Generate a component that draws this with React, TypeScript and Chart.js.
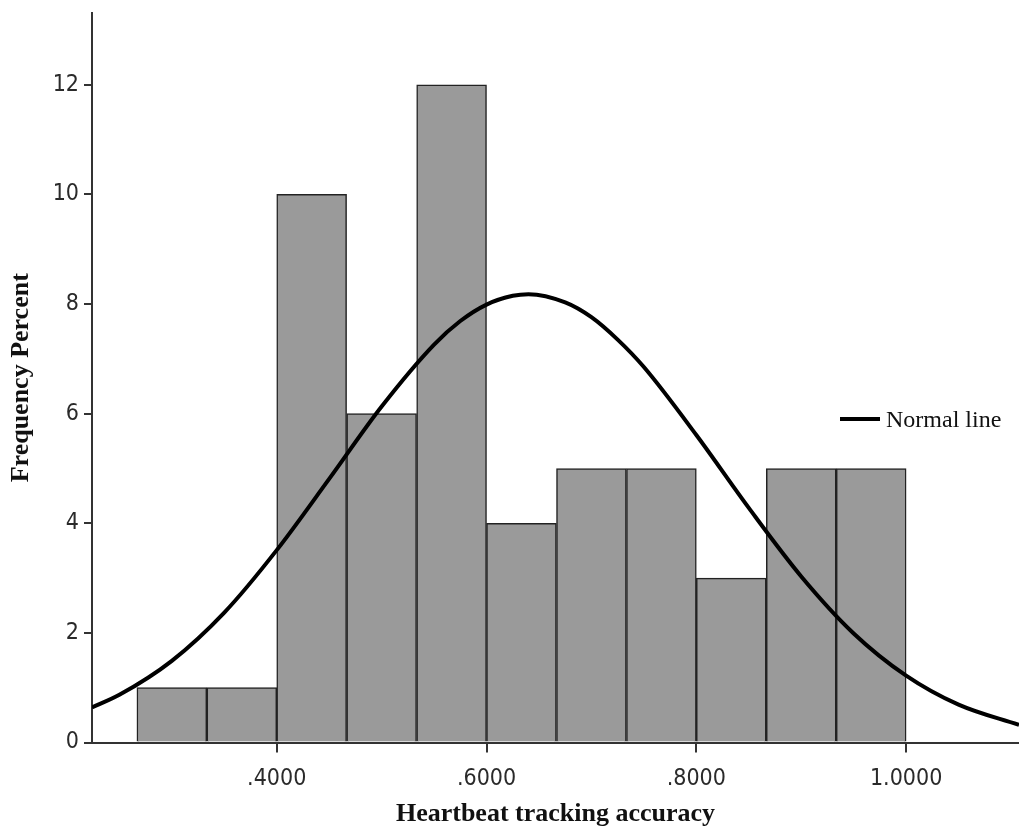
import React, { useEffect, useRef } from "react";
import { Chart, registerables } from "chart.js";

Chart.register(...registerables);

// Histogram bins (centre of each bin) and heights (Frequency Percent)
const binCenters = [0.3, 0.3667, 0.4333, 0.5, 0.5667, 0.6333, 0.7, 0.7667, 0.8333, 0.9, 0.9667];
const binPercents = [1, 1, 10, 6, 12, 4, 5, 5, 3, 5, 5];

// Normal line, points
const normalX = [0.2239, 0.25, 0.3, 0.35, 0.4, 0.45, 0.5, 0.55, 0.575, 0.6, 0.625, 0.64, 0.675, 0.7, 0.725, 0.75, 0.8, 0.85, 0.9, 0.95, 1.0, 1.05, 1.1076];
const normalY = [0.64, 0.87, 1.49, 2.37, 3.51, 4.81, 6.13, 7.26, 7.69, 7.99, 8.15, 8.18, 8.03, 7.76, 7.35, 6.85, 5.61, 4.28, 3.03, 1.99, 1.22, 0.69, 0.32];

// Axis ticks
const xTicks = [0.4, 0.6, 0.8, 1.0];
const xTickLabels = [".4000", ".6000", ".8000", "1.0000"];
const yTicks = [0, 2, 4, 6, 8, 10, 12];

const xMin = 0.2239;
const xMax = 1.1076;
const yMax = 13.31;

const tickFont = { family: "'DejaVu Sans Condensed', 'DejaVu Sans', sans-serif", size: 23 };
const titleFont = { family: "'Liberation Serif', 'Times New Roman', serif", size: 26, weight: "bold" as const };

export default function App() {
  const canvasRef = useRef<HTMLCanvasElement | null>(null);

  useEffect(() => {
    const canvas = canvasRef.current;
    if (!canvas) return;
    const chart = new Chart(canvas, {
      type: "bar",
      data: {
        datasets: [
          {
            type: "line",
            label: "Normal line",
            data: normalX.map((x, i) => ({ x, y: normalY[i] })),
            borderColor: "#000000",
            borderWidth: 4,
            pointRadius: 0,
            cubicInterpolationMode: "monotone",
            fill: false,
            order: 0,
          } as any,
          {
            type: "bar",
            label: "Frequency",
            data: binCenters.map((x, i) => ({ x, y: binPercents[i] })),
            backgroundColor: "#9a9a9a",
            borderColor: "#222222",
            borderWidth: 1.5,
            barPercentage: 1,
            categoryPercentage: 1,
            grouped: false,
            order: 1,
          } as any,
        ],
      },
      options: {
        animation: false,
        responsive: false,
        maintainAspectRatio: false,
        layout: { padding: { top: 13, left: 0, right: 0, bottom: 0 } },
        plugins: {
          legend: { display: false },
          tooltip: { enabled: false },
        },
        scales: {
          x: {
            type: "linear",
            offset: false,
            min: xMin,
            max: xMax,
            afterBuildTicks: (scale: any) => {
              scale.ticks = xTicks.map((v) => ({ value: v }));
            },
            afterFit: (scale: any) => {
              scale.height = 87.5;
              scale.paddingLeft = 0;
              scale.paddingRight = 0;
            },
            ticks: {
              font: tickFont,
              color: "#2a2a2a",
              padding: 13,
              maxRotation: 0,
              autoSkip: false,
              callback: (v: any) => {
                const i = xTicks.findIndex((t) => Math.abs(t - Number(v)) < 1e-6);
                return i >= 0 ? xTickLabels[i] : "";
              },
            },
            grid: {
              display: true,
              drawOnChartArea: false,
              drawTicks: true,
              tickLength: 10,
              color: "#333333",
              lineWidth: 2,
              offset: false,
            },
            border: { display: true, color: "#333333", width: 2 },
            title: {
              display: true,
              text: "Heartbeat tracking accuracy",
              font: titleFont,
              color: "#111111",
              padding: { top: 0, bottom: 0 },
            },
          },
          y: {
            type: "linear",
            min: 0,
            max: yMax,
            afterBuildTicks: (scale: any) => {
              scale.ticks = yTicks.map((v) => ({ value: v }));
            },
            afterFit: (scale: any) => {
              scale.width = 92;
              scale.paddingTop = 0;
              scale.paddingBottom = 0;
            },
            ticks: {
              font: tickFont,
              color: "#2a2a2a",
              padding: 5,
              autoSkip: false,
              callback: (v: any) => String(v),
            },
            grid: {
              display: true,
              drawOnChartArea: false,
              drawTicks: true,
              tickLength: 8,
              color: "#333333",
              lineWidth: 2,
            },
            border: { display: true, color: "#333333", width: 2 },
            title: {
              display: true,
              text: "Frequency Percent",
              font: titleFont,
              color: "#111111",
              padding: { top: 6, bottom: 0 },
            },
          },
        },
      },
    });
    return () => chart.destroy();
  }, []);

  return (
    <div style={{ position: "fixed", left: 0, top: 0, width: 1019, height: 830, background: "#ffffff" }}>
      <canvas ref={canvasRef} width={1019} height={830} style={{ display: "block", width: 1019, height: 830 }} />
      <div style={{ position: "absolute", left: 840, top: 417, width: 40, height: 4, background: "#000000" }} />
      <div
        style={{
          position: "absolute",
          left: 886,
          top: 404,
          fontFamily: "'Liberation Serif', 'Times New Roman', serif",
          fontSize: 24,
          lineHeight: "30px",
          color: "#111111",
          whiteSpace: "nowrap",
        }}
      >
        Normal line
      </div>
    </div>
  );
}
